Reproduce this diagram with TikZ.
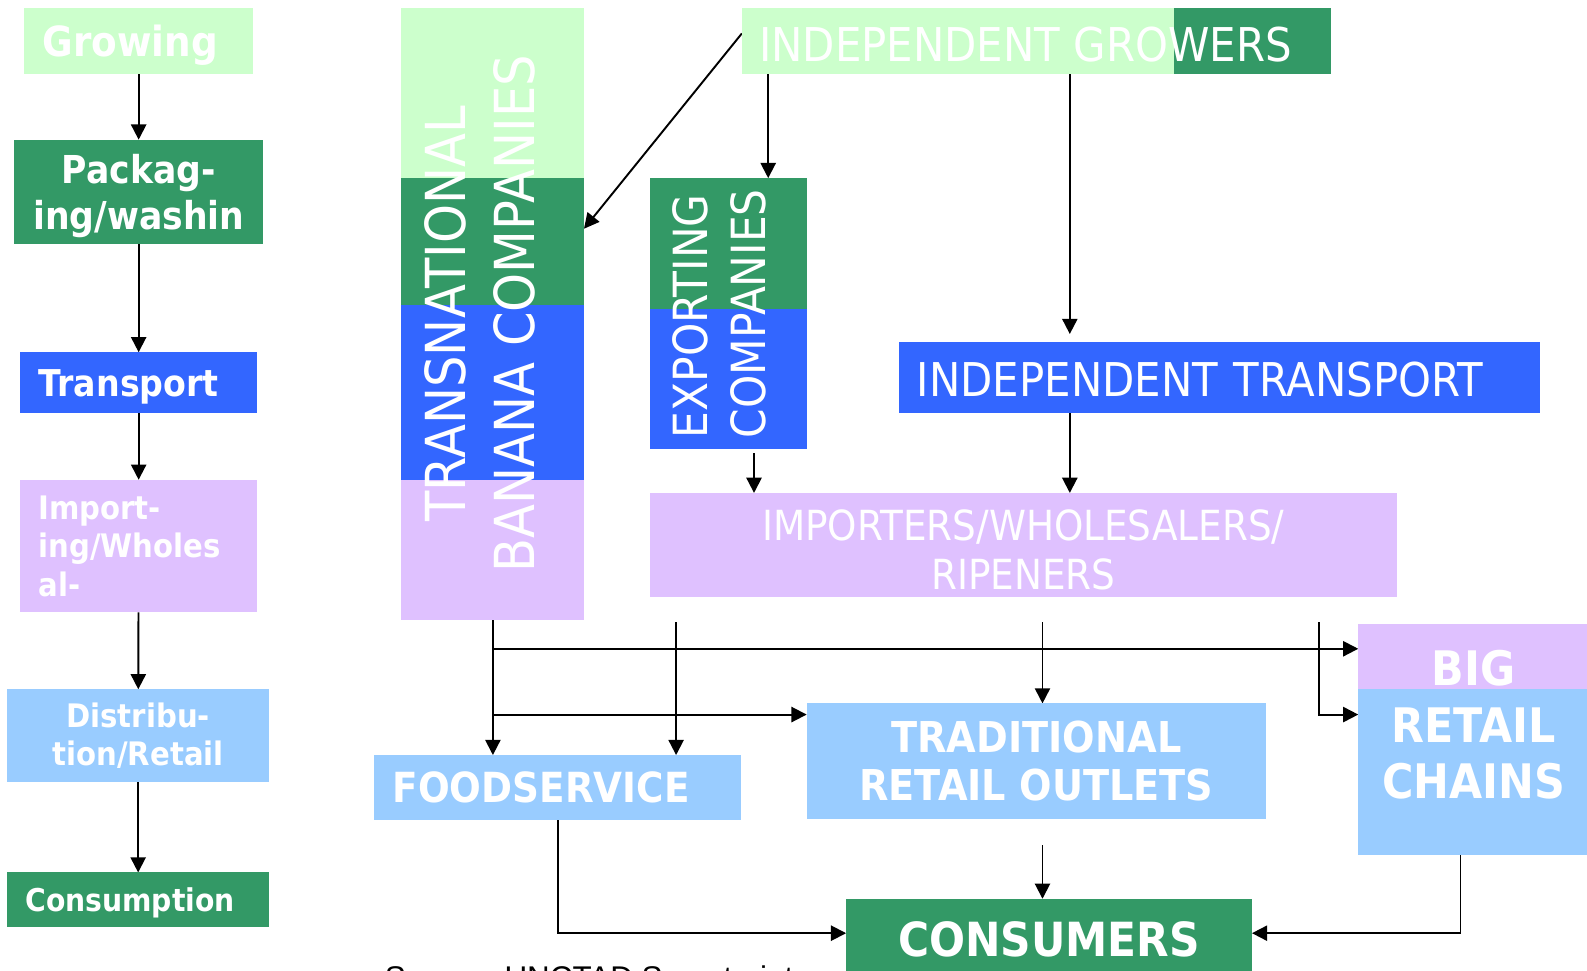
\documentclass[tikz,border=0pt]{standalone}
\usepackage{fontspec}
\setmainfont[FakeStretch=0.9]{DejaVu Sans}
\newfontfamily\srcfont{Liberation Sans}
\usepackage{tikz}
\usetikzlibrary{arrows.meta,backgrounds,calc}
\definecolor{palegreen}{HTML}{CCFFCC}
\definecolor{darkgreen}{HTML}{339966}
\definecolor{royal}{HTML}{3366FF}
\definecolor{lilac}{HTML}{DFC1FF}
\definecolor{skyblue}{HTML}{99CCFF}
\newcommand{\boxfont}[2]{\fontsize{#1}{#2}\selectfont}
\tikzstyle{supply}=[
  x=1pt, y=-1pt, >={Triangle[length=15pt,width=15pt]}
]
\tikzstyle{stage}=[
  inner sep=0pt, outer sep=0pt, text=white, align=center
]
\tikzstyle{lstage}=[
  stage, align=left, inner xsep=18pt
]
\tikzstyle{band}=[
  inner sep=0pt, outer sep=0pt
]
\tikzstyle{flow}=[
  ->, line width=1.9pt
]

\begin{document}
\begin{tikzpicture}[supply]
  \useasboundingbox (0,0) rectangle (1568,958.4);
  % stages of the chain
  \node (grow) at (137,40.5) [lstage, fill=palegreen, text width=190pt, minimum height=65pt, text depth=0pt, font=\bfseries\boxfont{41}{48}] {Growing};
  \node (pack) at (137,189.5) [stage, fill=darkgreen, minimum width=246pt, minimum height=103pt, text depth=0pt, font=\bfseries\boxfont{38}{45}] {Packag-\\ing/washin};
  \node (trans) at (137,378) [lstage, fill=royal, text width=198pt, minimum height=60pt, text depth=0pt, font=\bfseries\boxfont{36.5}{42}] {Transport};
  \node (impw) at (137,539.5) [lstage, fill=lilac, text width=198pt, minimum height=131pt, font=\bfseries\boxfont{32}{38}] {Import-\\ing/Wholes\\al-};
  \node (dist) at (136.5,727) [stage, fill=skyblue, minimum width=259pt, minimum height=92pt, font=\bfseries\boxfont{32}{37}] {Distribu-\\tion/Retail};
  \node (cons) at (136.5,889) [lstage, fill=darkgreen, text width=223pt, minimum height=54pt, text depth=0pt, font=\bfseries\boxfont{31}{37}] {Consumption};

  % transnational companies
  \node (tnc1) at (486.5,92) [band, fill=palegreen, minimum width=181pt, minimum height=168pt] {};
  \node (tnc2) at (486.5,238.5) [band, fill=darkgreen, minimum width=181pt, minimum height=125pt] {};
  \node (tnc3) at (486.5,387.5) [band, fill=royal, minimum width=181pt, minimum height=173pt] {};
  \node (tnc4) at (486.5,543.5) [band, fill=lilac, minimum width=181pt, minimum height=139pt] {};
  \node (tnctxt) at (474,310) [stage, rotate=90, font=\boxfont{54.5}{68}] {TRANSNATIONAL\\BANANA COMPANIES};

  % exporting companies
  \node (exp1) at (719.5,240.5) [band, fill=darkgreen, minimum width=155pt, minimum height=129pt] {};
  \node (exp2) at (719.5,374.5) [band, fill=royal, minimum width=155pt, minimum height=139pt] {};
  \node (exptxt) at (711,310) [stage, align=left, rotate=90, font=\boxfont{46.5}{57}] {EXPORTING\\COMPANIES};

  % independent growers
  \node (grwA) at (946.5,40.5) [band, fill=palegreen, minimum width=427pt, minimum height=65pt] {};
  \node (grwB) at (1237.5,40.5) [band, fill=darkgreen, minimum width=155pt, minimum height=65pt] {};
  \node (grwtxt) at (750,44) [stage, anchor=west, font=\boxfont{46}{54}] {INDEPENDENT GROWERS};

  \node (itr) at (1205,373) [lstage, fill=royal, text width=598pt, minimum height=70pt, text height=38pt, font=\boxfont{46}{54}] {INDEPENDENT TRANSPORT};
  \node (imp) at (1011,538.5) [stage, fill=lilac, minimum width=738pt, minimum height=103pt, text height=88pt, font=\boxfont{41}{48}] {IMPORTERS/WHOLESALERS/\\RIPENERS};

  % retail
  \node (big1) at (1456,649) [band, fill=lilac, minimum width=228pt, minimum height=64pt] {};
  \node (big2) at (1456,763) [band, fill=skyblue, minimum width=228pt, minimum height=164pt] {};
  \node (bigtxt) at (1456,716) [stage, font=\bfseries\boxfont{47}{56}] {BIG\\RETAIL\\CHAINS};
  \node (trad) at (1024,752) [stage, fill=skyblue, minimum width=454pt, minimum height=114pt, font=\bfseries\boxfont{42}{48}] {TRADITIONAL\\RETAIL OUTLETS};
  \node (food) at (551,778) [lstage, fill=skyblue, text width=326pt, minimum height=64pt, font=\bfseries\boxfont{41}{48}] {FOODSERVICE};
  \node (consm) at (1036.5,928) [stage, fill=darkgreen, minimum width=401pt, minimum height=80pt, font=\bfseries\boxfont{46.5}{54}] {CONSUMERS};

  \node (src) at (380,977) [anchor=base west, inner sep=0pt, font=\srcfont\boxfont{31}{36}] {Source: UNCTAD Secretariat};

  \coordinate (xa) at (759,0);
  \coordinate (xb) at (1057,0);
  \coordinate (xc) at (745,0);
  \coordinate (xd) at (1443,0);
  \coordinate (b1) at (487,641);
  \coordinate (b2) at (487,706);
  \coordinate (s1) at (668,615);
  \coordinate (s2) at (1030,615);
  \coordinate (s3) at (1303,615);
  \coordinate (s4) at (1030,835);
  \coordinate (yc) at (0,922);

  \begin{scope}[on background layer]
    \draw [flow] (grow) -- (pack);
    \draw [flow] (pack) -- (trans);
    \draw [flow] (trans) -- (impw);
    \draw [flow] (impw) -- (dist);
    \draw [flow] (dist) -- (cons);

    \draw [flow] ([yshift=7.5pt]grwA.west) -- ([yshift=12.5pt]tnc2.east);
    \draw [flow] (grwA.south -| xa) -- (exp1.north -| xa);
    \draw [flow, shorten >=8pt] (grwA.south -| xb) -- (itr.north -| xb);
    \draw [flow, shorten <=4pt] (exp2.south -| xc) -- (imp.north -| xc);
    \draw [flow] (itr.south -| xb) -- (imp.north -| xb);

    \draw [flow] (tnc4.south -| b1) -- (food.north -| b1);
    \draw [flow] (b1) -- (big1.west |- b1);
    \draw [flow] (b2) -- (trad.west |- b2);
    \draw [flow] (s1) -- (food.north -| s1);
    \draw [flow] (s2) -- (trad.north -| s2);
    \draw [flow] (s3) |- (big2.west |- b2);
    \draw [flow] (s4) -- (consm.north -| s4);
    \draw [flow] (food.south) |- (consm.west |- yc);
    \draw [flow] (big2.south -| xd) |- (consm.east |- yc);
  \end{scope}
\end{tikzpicture}
\end{document}
